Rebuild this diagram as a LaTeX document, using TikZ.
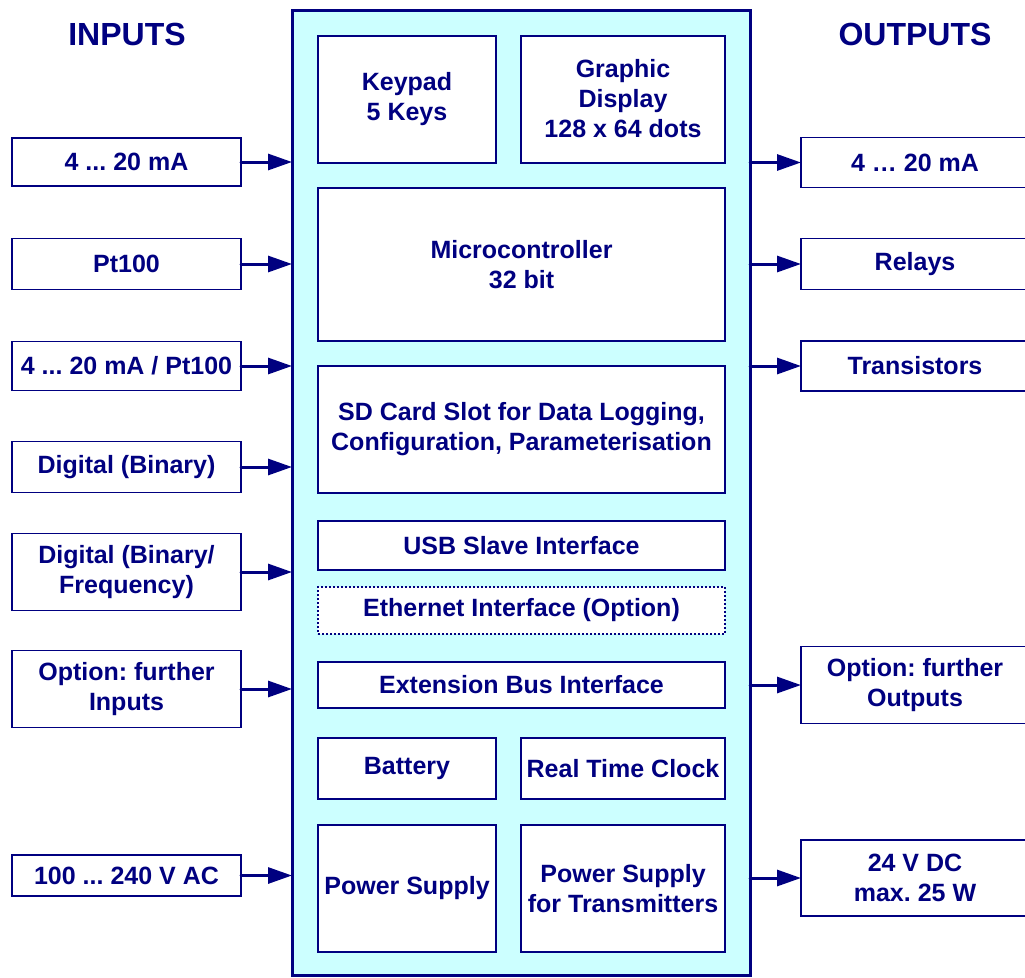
\documentclass[tikz,border=0pt]{standalone}
\usepackage{fontspec}
\setmainfont{Liberation Sans}
\usetikzlibrary{arrows.meta}
\definecolor{navy}{HTML}{000080}
\definecolor{cyanfill}{HTML}{CCFFFF}
\frenchspacing
\begin{document}
\begin{tikzpicture}[x=1pt,y=-1pt,
  every node/.style={font=\fontsize{25}{30}\selectfont\bfseries, text=navy, align=center, inner sep=0pt, outer sep=0pt},
  iobox/.style={draw=navy, line width=1.3pt, fill=white, rectangle},
  inbox/.style={draw=navy, line width=2pt, fill=white, rectangle},
  optbox/.style={inbox, dash pattern=on 2pt off 2pt},
  mainbox/.style={draw=navy, line width=3pt, fill=cyanfill, rectangle},
  arr/.style={draw=navy, line width=3pt, line cap=round, -{Triangle[length=24pt,width=16pt]}},
  titletext/.style={font=\fontsize{32}{36}\selectfont\bfseries}
]
\useasboundingbox (0,0) rectangle (1025,977);
\clip (0,0) rectangle (1025,977);

% titles
\node[titletext] (tin) at (127,34) {INPUTS};
\node[titletext] (tout) at (915,34) {OUTPUTS};

% main block
\node[mainbox, minimum width=458pt, minimum height=965pt] (main) at (521,492.5) {};

% inner blocks
\node[inbox, minimum width=178pt, minimum height=127pt] (keypad) at (407,99.5) {Keypad\\5 Keys};
\node[inbox, minimum width=204pt, minimum height=127pt] (display) at (623,99) {Graphic\\Display\\128 x 64 dots};
\node[inbox, minimum width=407pt, minimum height=153pt] (mcu) at (521.5,264.5) {Microcontroller\\32 bit};
\node[inbox, minimum width=407pt, minimum height=127pt] (sd) at (521.5,429.5) {SD Card Slot for Data Logging,\\Configuration, Parameterisation};
\node[inbox, minimum width=407pt, minimum height=49pt] (usb) at (521.5,545.5) {USB Slave Interface};
\node[optbox, minimum width=407pt, minimum height=47pt] (eth) at (521.5,610.5) {Ethernet Interface (Option)};
\node[inbox, minimum width=407pt, minimum height=46pt] (ext) at (521.5,685) {Extension Bus Interface};
\node[inbox, minimum width=178pt, minimum height=61pt] (bat) at (407,768.5) {Battery};
\node[inbox, minimum width=204pt, minimum height=61pt] (rtc) at (623,768.5) {Real Time Clock};
\node[inbox, minimum width=178pt, minimum height=127pt] (ps) at (407,888.5) {Power Supply};
\node[inbox, minimum width=204pt, minimum height=127pt] (pst) at (623,888.5) {Power Supply\\for Transmitters};

% inputs
\node[iobox, minimum width=229pt, minimum height=48pt] (i1) at (126.5,162) {4 ... 20 mA};
\node[iobox, minimum width=229pt, minimum height=51pt] (i2) at (126.5,264) {Pt100};
\node[iobox, minimum width=229pt, minimum height=49pt] (i3) at (126.5,366) {4 ... 20 mA / Pt100};
\node[iobox, minimum width=229pt, minimum height=51pt] (i4) at (126.5,467) {Digital (Binary)};
\node[iobox, minimum width=229pt, minimum height=77pt] (i5) at (126.5,572) {Digital (Binary/\\Frequency)};
\node[iobox, minimum width=229pt, minimum height=77pt] (i6) at (126.5,689) {Option: further\\Inputs};
\node[iobox, minimum width=229pt, minimum height=41pt] (i7) at (126.5,875.5) {100 ... 240 V AC};

% outputs
\node[iobox, minimum width=228pt, minimum height=50pt] (o1) at (915,162.5) {4 … 20 mA};
\node[iobox, minimum width=228pt, minimum height=51pt] (o2) at (915,264) {Relays};
\node[iobox, minimum width=228pt, minimum height=50pt] (o3) at (915,366) {Transistors};
\node[iobox, minimum width=228pt, minimum height=77pt] (o4) at (915,685) {Option: further\\Outputs};
\node[iobox, minimum width=228pt, minimum height=76pt] (o5) at (915,878) {24 V DC\\max. 25 W};

% input arrows
\foreach \n in {i1,i2,i3,i4,i5,i6,i7}
  \draw[arr] (\n.east) -- (\n.east -| main.west);
% output arrows
\foreach \n in {o1,o2,o3,o4,o5}
  \draw[arr] (\n.west -| main.east) -- (\n.west);
\end{tikzpicture}
\end{document}
